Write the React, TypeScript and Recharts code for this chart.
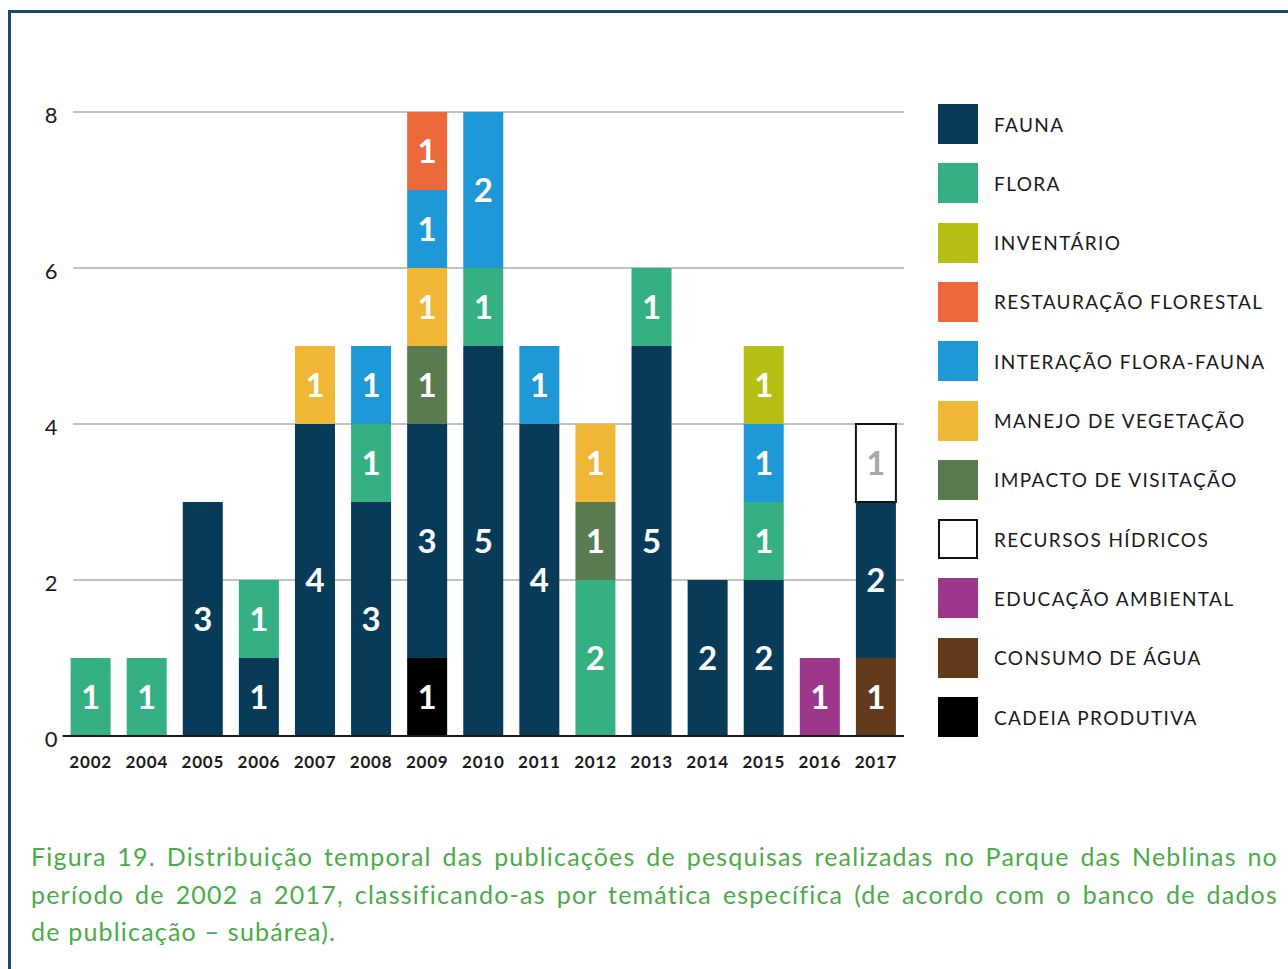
import React from 'react';
import { BarChart, Bar, XAxis, YAxis, CartesianGrid, LabelList } from 'recharts';

const years = ['2002', '2004', '2005', '2006', '2007', '2008', '2009', '2010', '2011', '2012', '2013', '2014', '2015', '2016', '2017'];
const fauna = [0, 0, 3, 1, 4, 3, 3, 5, 4, 0, 5, 2, 2, 0, 2];
const flora = [1, 1, 0, 1, 0, 1, 0, 1, 0, 2, 1, 0, 1, 0, 0];
const inventario = [0, 0, 0, 0, 0, 0, 0, 0, 0, 0, 0, 0, 1, 0, 0];
const restauracao = [0, 0, 0, 0, 0, 0, 1, 0, 0, 0, 0, 0, 0, 0, 0];
const interacao = [0, 0, 0, 0, 0, 1, 1, 2, 1, 0, 0, 0, 1, 0, 0];
const manejo = [0, 0, 0, 0, 1, 0, 1, 0, 0, 1, 0, 0, 0, 0, 0];
const impacto = [0, 0, 0, 0, 0, 0, 1, 0, 0, 1, 0, 0, 0, 0, 0];
const recursos = [0, 0, 0, 0, 0, 0, 0, 0, 0, 0, 0, 0, 0, 0, 1];
const educacao = [0, 0, 0, 0, 0, 0, 0, 0, 0, 0, 0, 0, 0, 1, 0];
const consumo = [0, 0, 0, 0, 0, 0, 0, 0, 0, 0, 0, 0, 0, 0, 1];
const cadeia = [0, 0, 0, 0, 0, 0, 1, 0, 0, 0, 0, 0, 0, 0, 0];
const yTicks = [0, 2, 4, 6, 8];

type S = { key: string; name: string; values: number[]; color: string; stroke?: string; labelColor: string };

const series: Record<string, S> = {
  fauna: { key: 'fauna', name: 'FAUNA', values: fauna, color: '#073b57', labelColor: '#fff' },
  flora: { key: 'flora', name: 'FLORA', values: flora, color: '#35b082', labelColor: '#fff' },
  inventario: { key: 'inventario', name: 'INVENTÁRIO', values: inventario, color: '#b8bf14', labelColor: '#fff' },
  restauracao: { key: 'restauracao', name: 'RESTAURAÇÃO FLORESTAL', values: restauracao, color: '#eb693b', labelColor: '#fff' },
  interacao: { key: 'interacao', name: 'INTERAÇÃO FLORA-FAUNA', values: interacao, color: '#1e98d6', labelColor: '#fff' },
  manejo: { key: 'manejo', name: 'MANEJO DE VEGETAÇÃO', values: manejo, color: '#f0b636', labelColor: '#fff' },
  impacto: { key: 'impacto', name: 'IMPACTO DE VISITAÇÃO', values: impacto, color: '#5a7a4f', labelColor: '#fff' },
  recursos: { key: 'recursos', name: 'RECURSOS HÍDRICOS', values: recursos, color: '#ffffff', stroke: '#111', labelColor: '#a8a8a8' },
  educacao: { key: 'educacao', name: 'EDUCAÇÃO AMBIENTAL', values: educacao, color: '#9c378b', labelColor: '#fff' },
  consumo: { key: 'consumo', name: 'CONSUMO DE ÁGUA', values: consumo, color: '#633a1a', labelColor: '#fff' },
  cadeia: { key: 'cadeia', name: 'CADEIA PRODUTIVA', values: cadeia, color: '#000000', labelColor: '#fff' },
};

const stackOrder = ['cadeia', 'consumo', 'educacao', 'fauna', 'flora', 'impacto', 'manejo', 'interacao', 'inventario', 'restauracao', 'recursos'];
const legendOrder = ['fauna', 'flora', 'inventario', 'restauracao', 'interacao', 'manejo', 'impacto', 'recursos', 'educacao', 'consumo', 'cadeia'];

const data = years.map((year, i) => {
  const row: Record<string, any> = { year };
  stackOrder.forEach((k) => {
    const v = series[k].values[i];
    row[k] = v ? v : null;
  });
  return row;
});

const FONT = 'Lato, "Open Sans", sans-serif';

const GridLine = (props: any) => {
  const { x1, x2, y1, y2 } = props;
  if (Math.abs(y1 - 736) < 2) return <g />;
  return <line x1={x1 + 10.5} x2={x2} y1={y1} y2={y2} stroke="#adadad" strokeWidth={1.6} />;
};

export default function App() {
  return (
    <div style={{ position: 'absolute', left: 0, top: 0, width: 1288, height: 969, background: '#fff', overflow: 'hidden', fontFamily: FONT }}>
      <div style={{ position: 'absolute', left: 8, top: 10, width: 1400, height: 1100, borderLeft: '3px solid #174a6b', borderTop: '3px solid #174a6b' }} />
      <div style={{ position: 'absolute', left: 0, top: 0 }}>
        <BarChart width={1288} height={969} data={data} margin={{ top: 112, right: 384, bottom: 203, left: 0 }} barSize={40}>
          <CartesianGrid vertical={false} horizontal={GridLine as any} />
          <XAxis
            dataKey="year"
            height={30}
            tickLine={false}
            tickSize={0}
            tickMargin={20}
            axisLine={{ stroke: '#1a1a1a', strokeWidth: 2 }}
            tick={{ fill: '#1a1a1a', fontSize: 17, fontWeight: 700, fontFamily: FONT, letterSpacing: 0.8 }}
            interval={0}
          />
          <YAxis
            width={62.6}
            domain={[0, 8]}
            ticks={yTicks}
            axisLine={false}
            tickLine={false}
            tickSize={0}
            tickMargin={5}
            tick={{ fill: '#1a1a1a', fontSize: 22, fontWeight: 400, fontFamily: FONT, dy: 3 }}
          />
          {stackOrder.map((k) => {
            const s = series[k];
            return (
              <Bar
                key={k}
                dataKey={k}
                stackId="a"
                fill={s.color}
                stroke={s.stroke}
                strokeWidth={s.stroke ? 2 : 0}
                isAnimationActive={false}
              >
                <LabelList
                  dataKey={k}
                  position="center"
                  fill={s.labelColor}
                  fontSize={33}
                  fontWeight={700}
                  fontFamily={FONT}
                  formatter={(v: any) => (v ? String(v) : '')}
                />
              </Bar>
            );
          })}
        </BarChart>
      </div>
      {legendOrder.map((k, i) => {
        const s = series[k];
        const top = 104 + i * 59.3;
        return (
          <div key={k} style={{ position: 'absolute', left: 938, top, height: 40, display: 'flex', alignItems: 'center' }}>
            <div style={{ width: s.stroke ? 36 : 40, height: s.stroke ? 36 : 40, background: s.color, border: s.stroke ? `2px solid ${s.stroke}` : 'none' }} />
            <div style={{ marginLeft: 16, fontSize: 19, color: '#1a1a1a', letterSpacing: 1.4, whiteSpace: 'nowrap' }}>{s.name}</div>
          </div>
        );
      })}
      <div style={{ position: 'absolute', left: 31, top: 838, width: 1247, color: '#4aab48', fontSize: 25, lineHeight: '37.5px', fontWeight: 400, letterSpacing: 1.2 }}>
        <div style={{ textAlign: 'justify', textAlignLast: 'justify', whiteSpace: 'nowrap' }}>
          Figura 19. Distribuição temporal das publicações de pesquisas realizadas no Parque das Neblinas no
        </div>
        <div style={{ textAlign: 'justify', textAlignLast: 'justify', whiteSpace: 'nowrap' }}>
          período de 2002 a 2017, classificando-as por temática específica (de acordo com o banco de dados
        </div>
        <div style={{ whiteSpace: 'nowrap' }}>de publicação – subárea).</div>
      </div>
    </div>
  );
}
